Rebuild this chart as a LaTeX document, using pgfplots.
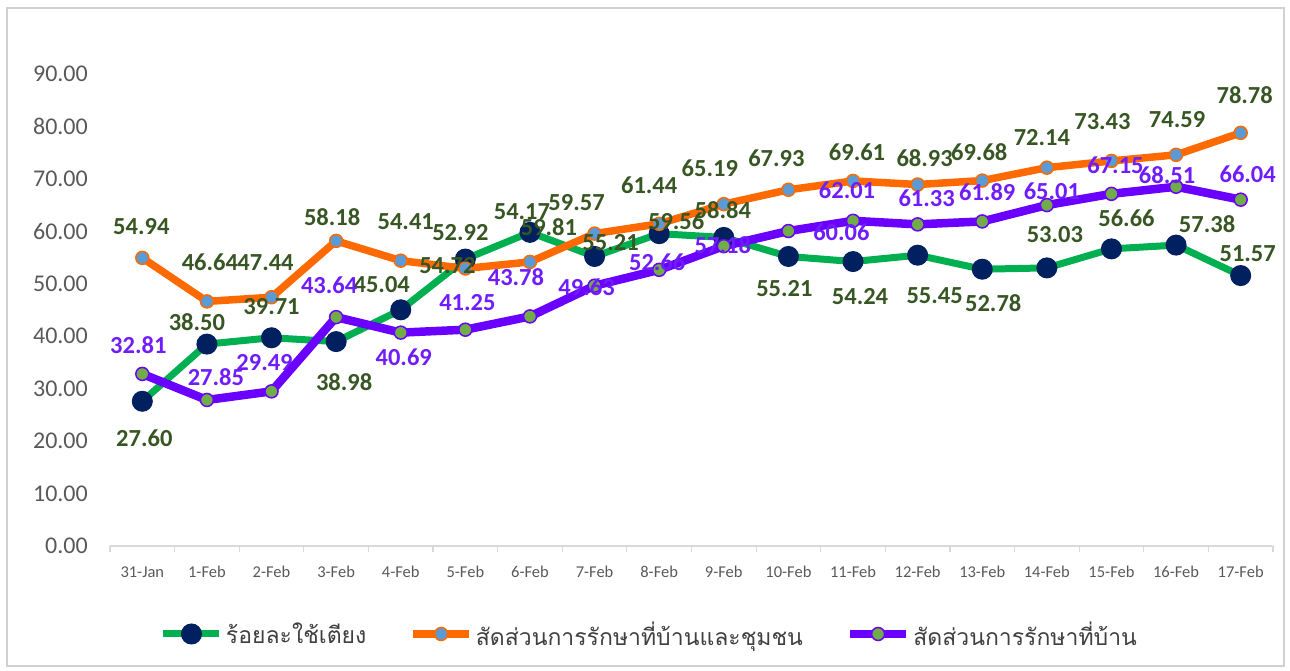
\documentclass[border=0pt]{standalone}
\usepackage{pgfplots}
\pgfplotsset{compat=1.18}
\usepackage{pgfplotstable}
\usepackage{fontspec}
\setmainfont{Carlito}
\newfontfamily\thaifont[Script=Thai]{Loma}
\definecolor{cGreen}{HTML}{00B050}
\definecolor{cNavy}{HTML}{002060}
\definecolor{cOrange}{HTML}{FF6A00}
\definecolor{cLBlue}{HTML}{5B9BD5}
\definecolor{cPurple}{HTML}{6A00FF}
\definecolor{cMGreen}{HTML}{70AD47}
\definecolor{cOlive}{HTML}{375623}
\definecolor{cPLabel}{HTML}{6F1CFF}
\definecolor{cTick}{HTML}{595959}
\definecolor{cAxis}{HTML}{D9D9D9}

\pgfplotstableread{
x y dx dy
0 27.60 2 -37
1 38.50 -10 22
2 39.71 0 31
3 38.98 8 -41
4 45.04 -19 25
5 54.72 -18 -7
6 59.81 19 5
7 55.21 16 14
8 59.56 17 12
9 58.84 -1 27
10 55.21 -4 -32
11 54.24 7 -35
12 55.45 17 -40
13 52.78 11 -34
14 53.03 8 33
15 56.66 15 31
16 57.38 31 21
17 51.57 7 22
}\tgreen

\pgfplotstableread{
x y dx dy
0 54.94 -1 31
1 46.64 3 39
2 47.44 -6 35
3 58.18 -4 24
4 54.41 5 39
5 52.92 -5 36
6 54.17 -8 50
7 59.57 -18 31
8 61.44 -10 39
9 65.19 -14 36
10 67.93 -12 32
11 69.61 4 29
12 68.93 7 26
13 69.68 -3 28
14 72.14 -5 30
15 73.43 -9 39
16 74.59 1 35
17 78.78 4 38
}\torange

\pgfplotstableread{
x y dx dy
0 32.81 -4 29
1 27.85 9 23
2 29.49 -7 29
3 43.64 -7 32
4 40.69 3 -25
5 41.25 2 27
6 43.78 -14 39
7 49.63 -8 -1
8 52.66 -2 8
9 57.18 -1 1
10 60.06 53 -1
11 62.01 -6 31
12 61.33 9 26
13 61.89 5 29
14 65.01 5 14
15 67.15 4 29
16 68.51 -9 12
17 66.04 7 25
}\tpurple

\begin{document}
\begin{tikzpicture}
\path[use as bounding box] (0pt,0pt) rectangle (1290pt,-670pt);
\draw[color=black!18, line width=1.5pt] (7pt,-8pt) rectangle (1284pt,-666pt);
\begin{axis}[
  at={(110pt,-546pt)}, anchor=south west,
  scale only axis, width=1163pt, height=472pt,
  xmin=-0.5, xmax=17.5, ymin=0, ymax=90,
  clip=false,
  axis x line*=bottom, axis y line*=left,
  x axis line style={-, draw=cAxis, line width=1.2pt},
  y axis line style={draw=none},
  xtick={0,...,17},
  xticklabels={31-Jan,1-Feb,2-Feb,3-Feb,4-Feb,5-Feb,6-Feb,7-Feb,8-Feb,9-Feb,10-Feb,11-Feb,12-Feb,13-Feb,14-Feb,15-Feb,16-Feb,17-Feb},
  minor xtick={-0.5,0.5,...,17.5},
  major tick length=0pt,
  minor tick length=6pt,
  tick align=outside,
  minor tick style={draw=cAxis, line width=1.2pt},
  ytick={0,10,...,90},
  yticklabel={\pgfmathprintnumber[fixed,fixed zerofill,precision=2]{\tick}},
  /pgf/number format/assume math mode=true,
  yticklabel style={font=\fontsize{24}{28}\selectfont, text=cTick, inner sep=0pt, anchor=east, xshift=-22pt},
  xticklabel style={font=\fontsize{16.5}{20}\selectfont, text=cTick, inner sep=0pt, anchor=center, yshift=-26pt},
  legend columns=3,
  legend style={at={(0.4643,-0.1864)}, anchor=center, draw=none, fill=none,
    font=\thaifont\fontsize{23}{27}\selectfont, text=black!75,
    /tikz/every even column/.append style={column sep=40pt},
    nodes={inner sep=3pt}},
  legend image code/.code={\draw[mark repeat=2,mark phase=2] plot coordinates {(0pt,0pt) (28pt,0pt) (56pt,0pt)};},
]
\addplot[cGreen, line width=7pt, mark=*, mark size=10pt, mark options={fill=cNavy, draw=cNavy, line width=1pt}] table[x=x,y=y] {\tgreen};
\addlegendentry{ร้อยละใช้เตียง}
\addplot[cOrange, line width=7.5pt, mark=*, mark size=6.5pt, mark options={fill=cLBlue, draw=cOrange, line width=1.5pt}] table[x=x,y=y] {\torange};
\addlegendentry{สัดส่วนการรักษาที่บ้านและชุมชน}
\addplot[cPurple, line width=8.5pt, mark=*, mark size=6.5pt, mark options={fill=cMGreen, draw=cPurple, line width=1.5pt}] table[x=x,y=y] {\tpurple};
\addlegendentry{สัดส่วนการรักษาที่บ้าน}

\pgfplotsset{lbl/.style={draw=none, mark=none, forget plot, point meta=y,
  visualization depends on={\thisrow{dx} \as \ldx},
  visualization depends on={\thisrow{dy} \as \ldy},
  nodes near coords={\pgfmathprintnumber[fixed,fixed zerofill,precision=2]{\pgfplotspointmeta}},
  every node near coord/.append style={anchor=center, inner sep=0pt, xshift=\ldx pt, yshift=\ldy pt,
     font=\fontsize{24.5}{28}\selectfont\bfseries, text=#1}}}
\addplot[lbl=cOlive] table[x=x,y=y] {\tgreen};
\addplot[lbl=cOlive] table[x=x,y=y] {\torange};
\addplot[lbl=cPLabel] table[x=x,y=y] {\tpurple};
\end{axis}
\end{tikzpicture}
\end{document}
